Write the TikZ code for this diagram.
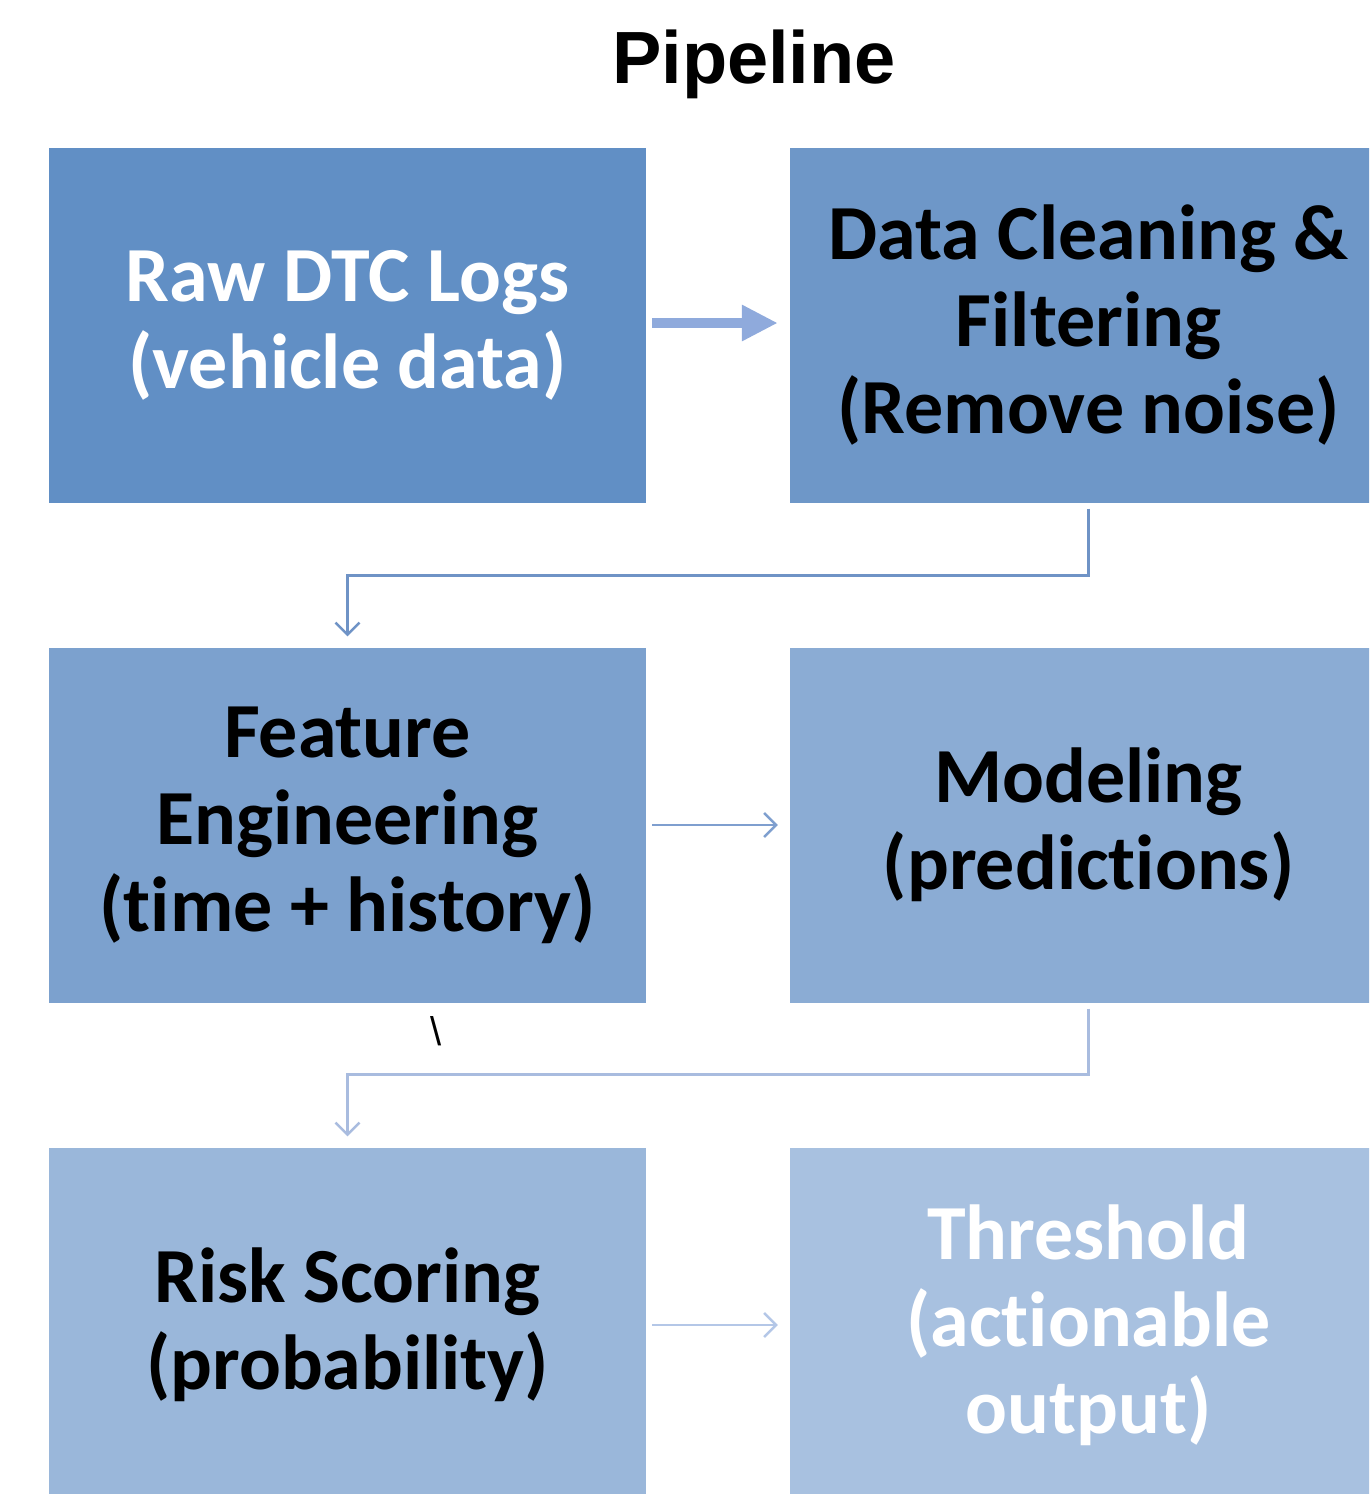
\documentclass[tikz,border=0pt]{standalone}
\usepackage{fontspec}
\setmainfont{Carlito}[RawFeature=-liga]
\newfontfamily\titlefont{Liberation Sans}
\usetikzlibrary{arrows.meta}
\definecolor{cA}{RGB}{97,143,197}
\definecolor{cB}{RGB}{110,151,200}
\definecolor{cC}{RGB}{124,161,206}
\definecolor{cD}{RGB}{139,172,212}
\definecolor{cE}{RGB}{154,183,218}
\definecolor{cF}{RGB}{168,193,224}
\definecolor{arrA}{RGB}{143,170,220}
\definecolor{arrB}{RGB}{127,159,207}
\definecolor{arrC}{RGB}{180,199,231}
\definecolor{elbA}{RGB}{111,147,198}
\definecolor{elbB}{RGB}{169,188,223}
\tikzset{
  stepbox/.style={rectangle, inner sep=0pt, minimum width=597pt, minimum height=355pt,
    align=center, font=\fontsize{78}{87}\selectfont\bfseries},
  bigarrow/.style={draw=arrA, line width=10pt, shorten <=6pt, shorten >=12pt,
    -{Triangle[length=36pt,width=34pt,fill=arrA]}},
  thinarrow/.style={line width=2.5pt, shorten <=6pt, shorten >=12pt,
    -{Straight Barb[length=12pt,width=24pt,line width=2.5pt]}},
  elbow/.style={line width=2.5pt, -{Straight Barb[length=12pt,width=24pt,line width=2.5pt]}}
}
\begin{document}
\begin{tikzpicture}[x=1pt,y=-1pt]
\path[use as bounding box] (0,0) rectangle (1369,1494);
\clip (0,0) rectangle (1369,1494);
\node[font=\titlefont\fontsize{74}{80}\selectfont\bfseries, anchor=base] (title) at (754,83) {Pipeline};

\node[stepbox, fill=cA, text=white] (b1) at (347.5,325) {Raw DTC Logs\\(vehicle data)};
\node[stepbox, fill=cB, text=black] (b2) at (1088.5,325) {Data Cleaning \&\\Filtering\\(Remove noise)};
\node[stepbox, fill=cC, text=black] (b3) at (347.5,825) {Feature\\Engineering\\(time + history)};
\node[stepbox, fill=cD, text=black] (b4) at (1088.5,825) {Modeling\\(predictions)};
\node[stepbox, fill=cE, text=black] (b5) at (347.5,1325) {Risk Scoring\\(probability)};
\node[stepbox, fill=cF, text=white] (b6) at (1088.5,1325) {Threshold\\(actionable\\output)};

\node[font=\titlefont\fontsize{40}{44}\selectfont] (bs) at (436,1031) {\textbackslash};

\draw[bigarrow] ([yshift=2pt]b1.east) -- ([yshift=2pt]b2.west);
\draw[thinarrow, draw=arrB] (b3.east) -- (b4.west);
\draw[thinarrow, draw=arrC] (b5.east) -- (b6.west);

\draw[elbow, draw=elbA] ([yshift=-6pt]b2.south) -- ++(0,67) -| ([yshift=11pt]b3.north);
\draw[elbow, draw=elbB] ([yshift=-6pt]b4.south) -- ++(0,66) -| ([yshift=11pt]b5.north);
\end{tikzpicture}
\end{document}
